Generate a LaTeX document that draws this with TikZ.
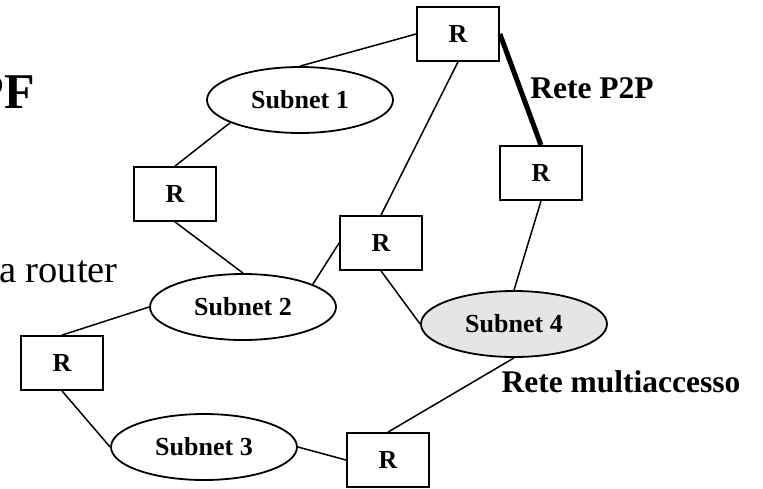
\documentclass[tikz,border=0pt]{standalone}
\usepackage{fontspec}
\setmainfont{Liberation Serif}
\usetikzlibrary{shapes.geometric}

\tikzset{
  routerbox/.style={draw, line width=1.8pt, minimum width=82, minimum height=54, inner sep=0pt,
    font=\fontsize{26}{30}\selectfont\bfseries},
  subnet/.style={draw, ellipse, line width=1.8pt, minimum width=186, minimum height=66, inner sep=0pt,
    font=\fontsize{26}{30}\selectfont\bfseries},
  link/.style={line width=1.5pt},
  plink/.style={line width=5pt},
  retelabel/.style={font=\fontsize{31.5}{36}\selectfont\bfseries, inner sep=0pt}
}

\begin{document}
\begin{tikzpicture}[x=1pt, y=-1pt]
\clip (0,0) rectangle (763,488);
\useasboundingbox (0,0) rectangle (763,488);

%TESTO DELLA SLIDE (tagliato a sinistra)
\node[anchor=base east, inner sep=0pt, font=\fontsize{50}{56}\selectfont\bfseries] (titolo) at (35,108) {PF};
\node[anchor=base east, inner sep=0pt, font=\fontsize{38.5}{44}\selectfont] (testo) at (118,282) {a router};

%SUBNET
\node[subnet] (sub1) at (300,100) {Subnet 1};
\node[subnet] (sub2) at (243,307) {Subnet 2};
\node[subnet] (sub3) at (204,447) {Subnet 3};
\node[subnet, fill=gray!20] (sub4) at (514,324) {Subnet 4};

%ROUTER
\node[routerbox] (r1) at (458,34) {R};
\node[routerbox] (r2) at (541,173) {R};
\node[routerbox] (r3) at (175,194) {R};
\node[routerbox] (r4) at (381,243) {R};
\node[routerbox] (r5) at (62,363) {R};
\node[routerbox] (r6) at (388,460) {R};

%COLLEGAMENTI
\draw[link] (sub1.north) -- (r1.west);
\draw[link] (r1.south) -- (r4.north);
\draw[plink] (r1.east) -- (r2.north);
\draw[link] (r2.south) -- (sub4.north);
\draw[link] (sub1.198) -- (r3.north);
\draw[link] (r3.south) -- (sub2.north);
\draw[link] (sub2.18) -- (r4.west);
\draw[link] (r4.south) -- (sub4.west);
\draw[link] (sub2.west) -- (r5.north);
\draw[link] (r5.south) -- (sub3.west);
\draw[link] (sub3.east) -- (r6.west);
\draw[link] (r6.north) -- (sub4.south);

%ETICHETTE RETI
\node[retelabel] (p2p) at (592,88) {Rete P2P};
\node[retelabel] (multi) at (621,382) {Rete multiaccesso};

\end{tikzpicture}
\end{document}
